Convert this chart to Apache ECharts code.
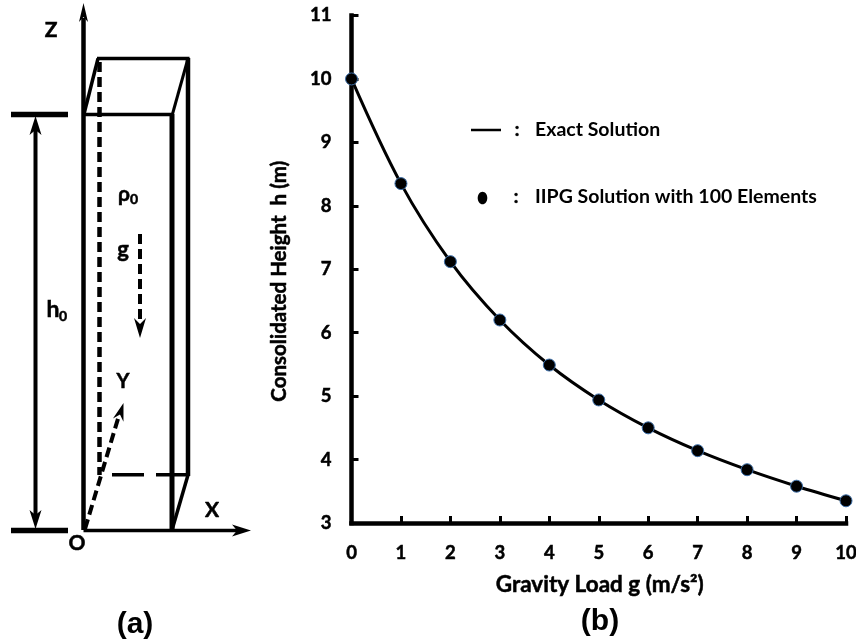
<!DOCTYPE html>
<html>
<head>
<meta charset="utf-8">
<style>html,body{margin:0;padding:0;background:#fff}#c{width:856px;height:644px}</style>
<script src="https://cdn.jsdelivr.net/npm/echarts@6/dist/echarts.min.js"></script>
</head>
<body>
<div id="c"></div>
<script>
var gravityLoad = [0,1,2,3,4,5,6,7,8,9,10];
var exactSolution = [10,8.35,7.12,6.2,5.49,4.94,4.5,4.14,3.84,3.58,3.35];
var iipgSolution = [10,8.35,7.12,6.2,5.49,4.94,4.5,4.14,3.84,3.58,3.35];
var xAxisTitle = 'Gravity Load g (m/s²)';
var yAxisTitle = 'Consolidated Height  h (m)';
var legendExact = 'Exact Solution';
var legendIipg = 'IIPG Solution with 100 Elements';

var FONT = 'Lato';
function pairs(xs, ys){ return xs.map(function(x,i){ return [x, ys[i]]; }); }
function seg(x1,y1,x2,y2,w,dash){
  return {type:'line',shape:{x1:x1,y1:y1,x2:x2,y2:y2},
    style:{stroke:'#000',lineWidth:w,lineDash:dash||null,lineCap:'butt'},silent:true};
}
// Barbed arrow head with its tip at (x,y), pointing along angle a (radians)
function head(x,y,a,len,half,notch){
  function p(u,v){ return [x+u*Math.cos(a)-v*Math.sin(a), y+u*Math.sin(a)+v*Math.cos(a)]; }
  return {type:'polygon',shape:{points:[p(0,0),p(-len,-half),p(-notch,0),p(-len,half)]},
    style:{fill:'#000'},silent:true};
}
function txt(x,y,s,size,family,align){
  return {type:'text',x:x,y:y,style:{text:s,fontFamily:family||FONT,fontWeight:'bold',fontSize:size,
    fill:'#000',stroke:family?null:'#000',lineWidth:family?0:0.5,align:align||'center',verticalAlign:'middle'},silent:true};
}
var up=-Math.PI/2, down=Math.PI/2;
var diagram = [
  // solid prism
  seg(83.5,530,83.5,18,4.5), seg(172,114,172,530,5), seg(188,58,188,476,4.5),
  seg(82,114.5,174,114.5,3.5), seg(97,58.5,189.5,58.5,3.5),
  seg(98,58.5,84,114,3.5), seg(188,58.5,172.5,114,3),
  seg(188,475,172,530,3.5),
  // hidden edges
  seg(99.5,62,99.5,475,4.5,[10,5]), seg(112,474.7,188,474.7,3.5,[32,12]),
  // X and Z axes
  seg(83.5,530.5,240,530.5,3.5), head(251,530.5,0,19,6,14), head(83.5,3,up,19,4.5,14),
  // h0 dimension
  seg(11,114.5,68,114.5,5.5), seg(11,530.5,68,530.5,5.5),
  seg(35.5,125,35.5,520,4), head(35.5,116,up,19,6,14), head(35.5,529,down,19,6,14),
  // g arrow
  seg(140,234,140,328,4,[10,5]), head(140,338,down,20,6,14),
  // Y axis
  seg(85,529,120,412,4,[10,5]), head(123.5,403,Math.atan2(-127,39),18,5.5,12),
  // labels
  txt(51,30,'Z',21), txt(212,510,'X',21), txt(123,382,'Y',20), txt(77,543,'O',21),
  txt(124,194,'ρ',21), txt(134,199,'0',14),
  txt(123,250,'g',22),
  txt(53,310,'h',23), txt(63,316,'0',14),
  txt(135,625,'(a)',30,'Liberation Sans'), txt(600,622,'(b)',30,'Liberation Sans'),
  // legend of the curve panel
  seg(471,130,501,130,2.5), txt(517,130,':',18), txt(535,130,legendExact,19.5,FONT,'left'),
  {type:'ellipse',shape:{cx:482.5,cy:198,rx:4.8,ry:6.3},style:{fill:'#000'},silent:true},
  txt(516,197,':',18), txt(535,197,legendIipg,19.5,FONT,'left')
];

var chart = echarts.init(document.getElementById('c'),null,{renderer:'canvas'});
var labelStyle = {fontFamily:FONT,fontWeight:'bold',fontSize:18.5,color:'#000',textBorderColor:'#000',textBorderWidth:0.5,
  showMinLabel:true,showMaxLabel:true,hideOverlap:false};
var axisBase = {
  axisLine:{show:true,onZero:false,lineStyle:{color:'#000',width:4.5,cap:'square'}},
  axisTick:{show:true,inside:true,length:7,lineStyle:{color:'#000',width:3}},
  splitLine:{show:false},
  nameLocation:'middle'
};
var nameStyle = {fontFamily:FONT,fontWeight:'bold',color:'#000',textBorderColor:'#000',textBorderWidth:0.5};
chart.setOption({
  animation:false,
  backgroundColor:'#fff',
  grid:{left:351.5,right:10,top:15.5,bottom:121,containLabel:false,outerBoundsMode:'none'},
  xAxis:Object.assign({},axisBase,{
    type:'value',min:0,max:10,interval:1,name:xAxisTitle,nameGap:50,
    nameTextStyle:Object.assign({fontSize:22.5,padding:[0,0,0,2]},nameStyle),
    axisLabel:Object.assign({margin:21},labelStyle)
  }),
  yAxis:Object.assign({},axisBase,{
    type:'value',min:3,max:11,interval:1,name:yAxisTitle,nameGap:62,
    nameTextStyle:Object.assign({fontSize:20.5,padding:[0,24,0,0]},nameStyle),
    axisLabel:Object.assign({margin:20},labelStyle)
  }),
  series:[
    {name:legendExact,type:'line',data:pairs(gravityLoad,exactSolution),smooth:0.35,symbol:'none',clip:false,
     lineStyle:{color:'#000',width:3}},
    {name:legendIipg,type:'scatter',data:pairs(gravityLoad,iipgSolution),symbol:'circle',symbolSize:12,clip:false,z:5,
     itemStyle:{color:'#000',opacity:1,borderColor:'#3c6ea8',borderWidth:1}}
  ],
  graphic:{elements:diagram}
});
</script>
</body>
</html>
